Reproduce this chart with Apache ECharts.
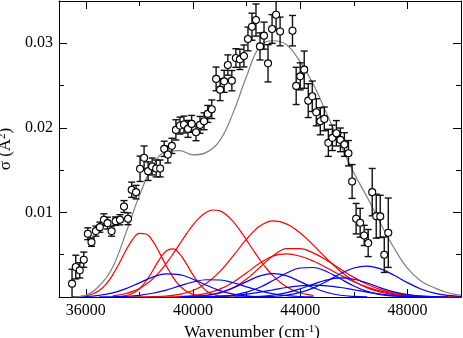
<!DOCTYPE html>
<html>
<head>
<meta charset="utf-8">
<script src="https://cdn.jsdelivr.net/npm/echarts@6/dist/echarts.min.js"></script>
<style>
  html, body { margin: 0; padding: 0; background: #fff; }
  #chart { width: 463px; height: 338px; }
</style>
</head>
<body>
<div id="chart"></div>
<script>
// measured cross sections (cm-1, A^2, error)
var waveNumbers = [35486, 35625, 35775, 35925, 36075, 36212, 36375, 36525, 36675, 36812,
  36962, 37112, 37275, 37425, 37575, 37712, 37875, 38025, 38175, 38325,
  38475, 38625, 38775, 38925, 39062, 39212, 39362, 39512, 39662, 39812,
  39950, 40112, 40262, 40412, 40550, 40700, 40862, 41012, 41162, 41300,
  41450, 41600, 41750, 41900, 42050, 42200, 42350, 42500, 42650, 42800,
  42950, 43100, 43250, 43712, 43850, 44000, 44150, 44300, 44450, 44600,
  44750, 44900, 45050, 45200, 45350, 45500, 45650, 45800, 45937, 46087,
  46237, 46387, 46537, 46687, 46837, 46987, 47137, 47287];
var sigmaValues = [0.00158, 0.00354, 0.00315, 0.00441, 0.00748, 0.00649, 0.00779, 0.00826, 0.00913, 0.00874,
  0.00779, 0.00897, 0.00913, 0.0107, 0.00925, 0.01268, 0.0124, 0.01516, 0.01646, 0.01488,
  0.01543, 0.0152, 0.0152, 0.01752, 0.01685, 0.01787, 0.01976, 0.02027, 0.02039, 0.01988,
  0.02047, 0.01948, 0.02035, 0.02078, 0.02165, 0.0222, 0.02579, 0.02452, 0.0255, 0.02743,
  0.02558, 0.02826, 0.0281, 0.0285, 0.03051, 0.03196, 0.03275, 0.02963, 0.0309, 0.02763,
  0.03169, 0.03338, 0.0314, 0.03149, 0.02496, 0.02609, 0.02688, 0.02322, 0.02373, 0.02184,
  0.02078, 0.02106, 0.01823, 0.01882, 0.01936, 0.01858, 0.01803, 0.017, 0.01366, 0.00926,
  0.00878, 0.00728, 0.00638, 0.0124, 0.00956, 0.00953, 0.005, 0.0076];
var sigmaErrors = [0.0017, 0.0014, 0.0009, 0.0009, 0.0007, 0.0005, 0.0006, 0.0006, 0.0007, 0.0007,
  0.0006, 0.0005, 0.0006, 0.0007, 0.0007, 0.0009, 0.0008, 0.0015, 0.0014, 0.0011,
  0.001, 0.001, 0.001, 0.0009, 0.001, 0.0009, 0.0012, 0.001, 0.001, 0.001,
  0.001, 0.001, 0.001, 0.001, 0.001, 0.0011, 0.0014, 0.0013, 0.0013, 0.0012,
  0.0012, 0.0011, 0.0012, 0.0013, 0.0014, 0.0016, 0.0019, 0.0016, 0.0016, 0.0022,
  0.0017, 0.0018, 0.0017, 0.0018, 0.0022, 0.0016, 0.0022, 0.002, 0.0018, 0.0016,
  0.0016, 0.0014, 0.0016, 0.0015, 0.0015, 0.0014, 0.0014, 0.0015, 0.002, 0.0018,
  0.0017, 0.0012, 0.0016, 0.0028, 0.0026, 0.0025, 0.0021, 0.0041];

// sample positions for the fitted curves
var grid500 = [35000, 35500, 36000, 36500, 37000, 37500, 38000, 38500, 39000, 39500,
  40000, 40500, 41000, 41500, 42000, 42500, 43000, 43500, 44000, 44500,
  45000, 45500, 46000, 46500, 47000, 47500, 48000, 48500, 49000, 49500, 50000];
var grid250 = [35500, 35750, 36000, 36250, 36500, 36750, 37000, 37250, 37500, 37750,
  38000, 38250, 38500, 38750, 39000, 39250, 39500, 39750, 40000, 40250,
  40500, 40750, 41000, 41250, 41500];
var red3X = [37000, 37250, 37500, 37750, 38000, 38250, 38500, 38750, 39000, 39250,
  39500, 39750, 40000, 40250, 40500, 40750, 41000, 41250, 41500, 41750,
  42000, 42250, 42500, 42750, 43000, 43250, 43500, 43750, 44000, 44250, 44500];

// total fit (grey), on grid500
var fitTotal = [null, 0, 0.0002, 0.0013, 0.0035, 0.0076, 0.012, 0.0155, 0.0172, 0.0173,
  0.0168, 0.0171, 0.0185, 0.0218, 0.0261, 0.0297, 0.0303, 0.0298, 0.0278, 0.0251,
  0.0216, 0.0181, 0.0147, 0.0118, 0.0087, 0.0058, 0.0034, 0.0019, 0.0011, 0.0005, 0.0002];

// red bands (first two on grid250, third on red3X, rest on grid500)
var red1 = [0.00001, 0.00006, 0.00015, 0.00036, 0.00078, 0.0015, 0.00259, 0.004, 0.00552, 0.00682,
  0.00753, 0.00745, 0.0066, 0.00522, 0.0037, 0.00235, 0.00133, 0.00068, 0.00031, 0.00012,
  0.00005, 0.00002, null, null, null];
var red2 = [null, null, null, null, null, null, 0.00002, 0.00005, 0.00017, 0.00044,
  0.00098, 0.00189, 0.00313, 0.00445, 0.00543, 0.00568, 0.00511, 0.00394, 0.00261, 0.00148,
  0.00072, 0.0003, 0.00011, 0.00003, 0.00001];
var red3 = [0.00015, 0.00025, 0.00041, 0.00066, 0.00101, 0.0015, 0.00215, 0.00297, 0.00395, 0.00506,
  0.00625, 0.00743, 0.00852, 0.00941, 0.01003, 0.01029, 0.01018, 0.0097, 0.00891, 0.00789,
  0.00673, 0.00553, 0.00438, 0.00334, 0.00246, 0.00174, 0.00119, 0.00078, 0.0005, 0.0003, 0.00018];
var red4 = [null, null, null, null, null, 0.00001, 0.00002, 0.00004, 0.00011, 0.00031,
  0.00077, 0.00162, 0.003, 0.00486, 0.00684, 0.0084, 0.009, 0.00862, 0.00757, 0.0061,
  0.0045, 0.00305, 0.0019, 0.00108, 0.00057, 0.00027, 0.00012, 0.00005, 0.00002, 0.00001, null];
var red5 = [null, null, null, null, null, null, null, null, null, 0.00001,
  0.00005, 0.00017, 0.00046, 0.00108, 0.00212, 0.00352, 0.0049, 0.00572, 0.00571, 0.00519,
  0.00433, 0.00331, 0.00232, 0.0015, 0.00088, 0.00048, 0.00024, 0.00011, 0.00004, 0.00002, 0.00001];
var red6 = [null, null, null, null, null, null, null, null, 0.00002, 0.00006,
  0.00017, 0.00042, 0.00093, 0.00175, 0.00286, 0.00401, 0.00487, 0.00509, 0.00482, 0.00423,
  0.00344, 0.00258, 0.0018, 0.00116, 0.00069, 0.00038, 0.00019, 0.00009, 0.00004, 0.00002, 0.00001];

// blue bands, on grid500
var blue1 = [null, 0.00002, 0.00006, 0.0002, 0.00048, 0.00099, 0.00167, 0.00235, 0.00274, 0.00264,
  0.0021, 0.00139, 0.00076, 0.00034, 0.00013, 0.00004, 0.00001, null, null, null,
  null, null, null, null, null, null, null, null, null, null, null];
var blue2 = [null, null, null, 0.00001, 0.00003, 0.00008, 0.0002, 0.00044, 0.00082, 0.00131,
  0.00177, 0.00204, 0.00201, 0.00169, 0.0012, 0.00073, 0.00038, 0.00017, 0.00006, 0.00002,
  null, null, null, null, null, null, null, null, null, null, null];
var blue3 = [null, null, null, null, null, null, null, null, null, 0.00002,
  0.00007, 0.00021, 0.00053, 0.00109, 0.00182, 0.00249, 0.00276, 0.00249, 0.00182, 0.00109,
  0.00053, 0.00021, 0.00007, 0.00002, null, null, null, null, null, null, null];
var blue4 = [null, null, null, null, null, null, null, null, null, null,
  null, 0.00002, 0.00008, 0.00023, 0.00057, 0.00115, 0.00197, 0.00283, 0.00343, 0.00349,
  0.00299, 0.00215, 0.0013, 0.00066, 0.00028, 0.0001, 0.00003, 0.00001, null, null, null];
var blue5 = [null, null, null, null, null, null, null, null, null, null,
  null, null, null, null, null, 0.00002, 0.00008, 0.00023, 0.00054, 0.00108,
  0.00187, 0.00274, 0.00343, 0.00366, 0.00332, 0.00257, 0.0017, 0.00095, 0.00046, 0.00019, 0.00006];
var blue6 = [null, null, null, null, null, null, null, null, null, null,
  null, null, null, 0.00001, 0.00003, 0.00009, 0.00024, 0.00052, 0.00098, 0.00153,
  0.00203, 0.00225, 0.0021, 0.00165, 0.00108, 0.0006, 0.00028, 0.00011, 0.00004, 0.00001, null];
var blue7 = [null, null, null, null, null, null, null, null, null, null,
  0.00002, 0.00004, 0.00009, 0.00019, 0.00035, 0.00058, 0.00085, 0.00112, 0.00132, 0.0014,
  0.00132, 0.00112, 0.00085, 0.00058, 0.00035, 0.00019, 0.00009, 0.00004, 0.00002, null, null];

// axis ticks
var xMajor = [36000, 40000, 44000, 48000];
var xMinor = [38000, 42000, 46000];
var yMajor = [0.01, 0.02, 0.03];
var yMinor = [0.005, 0.015, 0.025];

var serif = 'Liberation Serif';

function pairs(xs, ys) {
  return xs.map(function (x, i) { return [x, ys[i]]; });
}

function bandSeries(xs, ys, color) {
  return {
    type: 'line',
    data: pairs(xs, ys),
    smooth: 0.4,
    showSymbol: false,
    silent: true,
    lineStyle: { color: color, width: 1.2 },
    z: 2
  };
}

function xAx(pos, ticks, len, withLine, withLabel) {
  var ax = {
    type: 'value', position: pos, min: 35000, max: 50000,
    axisLine: { show: withLine, onZero: false, lineStyle: { color: '#000', width: 1 } },
    axisTick: { show: true, inside: true, length: len, customValues: ticks, lineStyle: { color: '#000', width: 1 } },
    axisLabel: { show: false },
    splitLine: { show: false }
  };
  if (withLabel) {
    ax.axisLabel = {
      show: true, customValues: ticks, margin: 6, color: '#000', fontFamily: serif, fontSize: 16,
      formatter: function (v) { return String(v); }
    };
    ax.name = '{a|Wavenumber (cm}{s|-1}{a|)}';
    ax.nameLocation = 'middle';
    ax.nameGap = 19;
    ax.nameTextStyle = {
      color: '#000', fontFamily: serif, fontSize: 17, padding: [0, 16, 0, 0],
      rich: {
        a: { fontFamily: serif, fontSize: 17, color: '#000' },
        s: { fontFamily: serif, fontSize: 11, color: '#000', verticalAlign: 'top' }
      }
    };
  }
  return ax;
}

function yAx(pos, ticks, len, withLine, withLabel) {
  var ax = {
    type: 'value', position: pos, min: 0, max: 0.035,
    axisLine: { show: withLine, onZero: false, lineStyle: { color: '#000', width: 1 } },
    axisTick: { show: true, inside: true, length: len, customValues: ticks, lineStyle: { color: '#000', width: 1 } },
    axisLabel: { show: false },
    splitLine: { show: false }
  };
  if (withLabel) {
    ax.axisLabel = {
      show: true, customValues: ticks, margin: 6, color: '#000', fontFamily: serif, fontSize: 16,
      formatter: function (v) { return v.toFixed(2); }
    };
    ax.name = '{a|σ (Å}{s|2}{a|)}';
    ax.nameLocation = 'middle';
    ax.nameGap = 35;
    ax.nameTextStyle = {
      color: '#000', fontFamily: serif, fontSize: 17,
      rich: {
        a: { fontFamily: serif, fontSize: 17, color: '#000' },
        s: { fontFamily: serif, fontSize: 11, color: '#000', verticalAlign: 'top' }
      }
    };
  }
  return ax;
}

var chart = echarts.init(document.getElementById('chart'));

var points = waveNumbers.map(function (x, i) { return [x, sigmaValues[i], sigmaErrors[i]]; });

var option = {
  animation: false,
  backgroundColor: '#fff',
  grid: { left: 59, right: 2, top: 1, bottom: 41, containLabel: false, outerBoundsMode: 'none' },
  xAxis: [
    xAx('bottom', xMajor, 8, true, true),
    xAx('bottom', xMinor, 5, false, false),
    xAx('top', xMajor, 8, true, false),
    xAx('top', xMinor, 5, false, false)
  ],
  yAxis: [
    yAx('left', yMajor, 8, true, true),
    yAx('left', yMinor, 5, false, false),
    yAx('right', yMajor, 8, true, false),
    yAx('right', yMinor, 5, false, false)
  ],
  series: [
    bandSeries(grid250, red1, '#ff0000'),
    bandSeries(grid250, red2, '#ff0000'),
    bandSeries(red3X, red3, '#ff0000'),
    bandSeries(grid500, red4, '#ff0000'),
    bandSeries(grid500, red5, '#ff0000'),
    bandSeries(grid500, red6, '#ff0000'),
    bandSeries(grid500, blue1, '#0000ff'),
    bandSeries(grid500, blue2, '#0000ff'),
    bandSeries(grid500, blue3, '#0000ff'),
    bandSeries(grid500, blue4, '#0000ff'),
    bandSeries(grid500, blue5, '#0000ff'),
    bandSeries(grid500, blue6, '#0000ff'),
    bandSeries(grid500, blue7, '#0000ff'),
    {
      type: 'line',
      data: pairs(grid500, fitTotal),
      smooth: 0.4,
      showSymbol: false,
      silent: true,
      lineStyle: { color: '#808080', width: 1.2 },
      z: 3
    },
    {
      type: 'custom',
      data: points,
      clip: true,
      silent: true,
      z: 4,
      renderItem: function (params, api) {
        var x = api.value(0), y = api.value(1), e = api.value(2);
        var top = api.coord([x, y + e]);
        var bot = api.coord([x, y - e]);
        var w = 3.5;
        var st = { stroke: '#111', lineWidth: 1.4 };
        return {
          type: 'group',
          children: [
            { type: 'line', shape: { x1: top[0], y1: top[1], x2: bot[0], y2: bot[1] }, style: st },
            { type: 'line', shape: { x1: top[0] - w, y1: top[1], x2: top[0] + w, y2: top[1] }, style: st },
            { type: 'line', shape: { x1: bot[0] - w, y1: bot[1], x2: bot[0] + w, y2: bot[1] }, style: st }
          ]
        };
      }
    },
    {
      type: 'scatter',
      data: points.map(function (p) { return [p[0], p[1]]; }),
      symbol: 'circle',
      symbolSize: 7,
      silent: true,
      itemStyle: { color: '#fff', borderColor: '#000', borderWidth: 1.1, opacity: 1 },
      z: 5
    }
  ]
};

chart.setOption(option);
</script>
</body>
</html>
